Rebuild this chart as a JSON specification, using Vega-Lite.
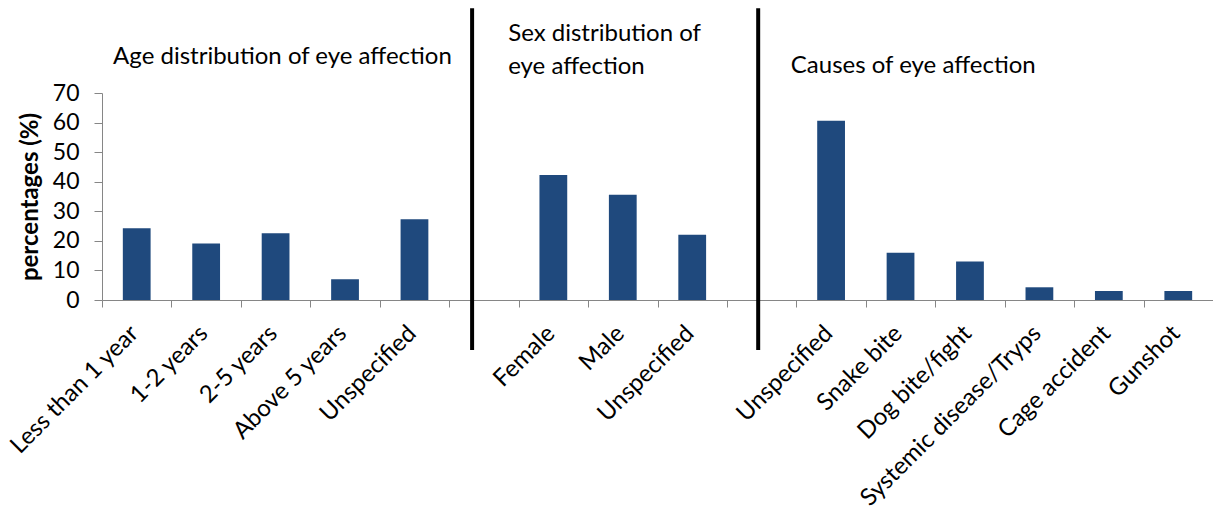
{
  "$schema": "https://vega.github.io/schema/vega-lite/v6.json",
  "autosize": {"type": "none"},
  "width": 1111,
  "height": 207,
  "padding": {"left": 102, "top": 93, "right": 0, "bottom": 214},
  "background": "white",
  "config": {
    "view": {"stroke": null},
    "font": "Lato",
    "axisLeft": {"labelPadding": 15, "tickSize": 8, "titlePadding": 10},
    "axisY": {
      "titleFontSize": 24,
      "titleFontWeight": "bold",
      "titleColor": "black",
      "grid": false,
      "labelFontSize": 23,
      "labelColor": "black",
      "labelOverlap": false,
      "labelFlush": false,
      "labelPadding": 15,
      "tickSize": 8,
      "titlePadding": 10,
      "domainColor": "#868686",
      "tickColor": "#868686"
    }
  },
  "data": {"values": [
    {"cat": "Less than 1 year", "value": 24.3},
    {"cat": "1-2 years", "value": 19.1},
    {"cat": "2-5 years", "value": 22.6},
    {"cat": "Above 5 years", "value": 7.0},
    {"cat": "Unspecified#age", "value": 27.3},
    {"cat": "Female", "value": 42.3},
    {"cat": "Male", "value": 35.6},
    {"cat": "Unspecified#sex", "value": 22.1},
    {"cat": "Unspecified#cause", "value": 60.6},
    {"cat": "Snake bite", "value": 16.0},
    {"cat": "Dog bite/fight", "value": 13.0},
    {"cat": "Systemic disease/Tryps", "value": 4.3},
    {"cat": "Cage accident", "value": 3.05},
    {"cat": "Gunshot", "value": 3.05}
  ]},
  "layer": [
    {
      "mark": {"type": "bar", "color": "#1F497D", "width": {"band": 0.4}},
      "encoding": {
        "x": {
          "field": "cat", "type": "nominal", "sort": null,
          "scale": {
            "domain": ["Less than 1 year","1-2 years","2-5 years","Above 5 years","Unspecified#age","#1","Female","Male","Unspecified#sex","#2","Unspecified#cause","Snake bite","Dog bite/fight","Systemic disease/Tryps","Cage accident","Gunshot"],
            "paddingInner": 0, "paddingOuter": 0
          },
          "axis": {
            "title": null,
            "labelAngle": -45,
            "labelExpr": "isString(datum.value) ? split(datum.value, '#')[0] : ''",
            "tickBand": "extent",
            "labelFontSize": 24,
            "labelColor": "black",
            "labelPadding": 14,
            "labelOffset": -11,
            "labelLimit": 0,
            "domainColor": "#868686",
            "tickColor": "#868686",
            "tickSize": 7,
            "labelOverlap": false
          }
        },
        "y": {
          "field": "value", "type": "quantitative",
          "scale": {"domain": [0, 70], "nice": false},
          "axis": {"title": "percentages (%)", "values": [0,10,20,30,40,50,60,70], "labelPadding": 15, "tickSize": 8, "titlePadding": 10}
        }
      }
    },
    {
      "data": {"values": [{"sep": 1}]},
      "mark": {"type": "rule", "color": "black", "strokeWidth": 4, "clip": false},
      "encoding": {
        "x": {"datum": "#1", "type": "nominal", "bandPosition": 0.33},
        "y": {"datum": -16.9, "type": "quantitative", "axis": {"title": "percentages (%)", "values": [0,10,20,30,40,50,60,70], "labelPadding": 15, "tickSize": 8, "titlePadding": 10}},
        "y2": {"datum": 98.7}
      }
    },
    {
      "data": {"values": [{"sep": 2}]},
      "mark": {"type": "rule", "color": "black", "strokeWidth": 4, "clip": false},
      "encoding": {
        "x": {"datum": "#2", "type": "nominal", "bandPosition": 0.45},
        "y": {"datum": -16.9, "type": "quantitative", "axis": {"title": "percentages (%)", "values": [0,10,20,30,40,50,60,70], "labelPadding": 15, "tickSize": 8, "titlePadding": 10}},
        "y2": {"datum": 98.7}
      }
    },
    {
      "data": {"values": [{"label": "Age distribution of eye affection"}]},
      "mark": {"type": "text", "align": "left", "baseline": "middle", "fontSize": 24, "color": "black"},
      "encoding": {
        "x": {"datum": "Less than 1 year", "type": "nominal", "bandPosition": 0.16},
        "y": {"datum": 82.3, "type": "quantitative", "axis": {"title": "percentages (%)", "values": [0,10,20,30,40,50,60,70], "labelPadding": 15, "tickSize": 8, "titlePadding": 10}},
        "text": {"field": "label"}
      }
    },
    {
      "data": {"values": [{"label": ["Sex distribution of", "eye affection"]}]},
      "mark": {"type": "text", "align": "left", "baseline": "middle", "fontSize": 24, "color": "black", "lineHeight": 33},
      "encoding": {
        "x": {"datum": "#1", "type": "nominal", "bandPosition": 0.85},
        "y": {"datum": 90.1, "type": "quantitative", "axis": {"title": "percentages (%)", "values": [0,10,20,30,40,50,60,70], "labelPadding": 15, "tickSize": 8, "titlePadding": 10}},
        "text": {"field": "label"}
      }
    },
    {
      "data": {"values": [{"label": "Causes of eye affection"}]},
      "mark": {"type": "text", "align": "left", "baseline": "middle", "fontSize": 24, "color": "black"},
      "encoding": {
        "x": {"datum": "#2", "type": "nominal", "bandPosition": 0.92},
        "y": {"datum": 79.2, "type": "quantitative", "axis": {"title": "percentages (%)", "values": [0,10,20,30,40,50,60,70], "labelPadding": 15, "tickSize": 8, "titlePadding": 10}},
        "text": {"field": "label"}
      }
    }
  ]
}
